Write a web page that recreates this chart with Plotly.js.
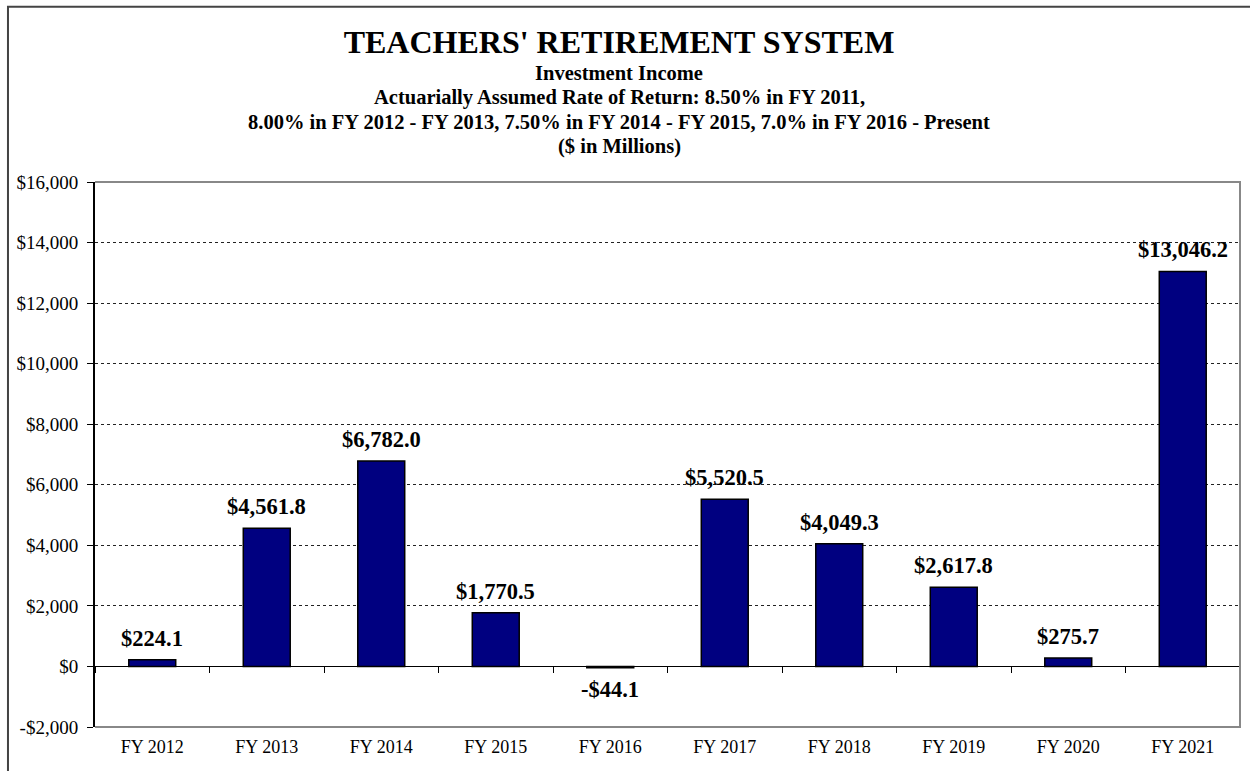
<!DOCTYPE html>
<html>
<head>
<meta charset="utf-8">
<script src="https://cdn.plot.ly/plotly-3.0.1.min.js"></script>
<style>
  html, body { margin: 0; padding: 0; background: #fff; }
  #chart { width: 1250px; height: 771px; }
</style>
</head>
<body>
<div id="chart"></div>
<script>
var years = ['FY 2012', 'FY 2013', 'FY 2014', 'FY 2015', 'FY 2016',
             'FY 2017', 'FY 2018', 'FY 2019', 'FY 2020', 'FY 2021'];
var income = [224.1, 4561.8, 6782.0, 1770.5, -44.1, 5520.5, 4049.3, 2617.8, 275.7, 13046.2];

var yTickVals = [-2000, 0, 2000, 4000, 6000, 8000, 10000, 12000, 14000, 16000];
var yTickText = ['-$2,000', '$0', '$2,000', '$4,000', '$6,000', '$8,000',
                 '$10,000', '$12,000', '$14,000', '$16,000'];

var titleText = "TEACHERS' RETIREMENT SYSTEM";
var subtitleLines = [
  'Investment Income',
  'Actuarially Assumed Rate of Return: 8.50% in FY 2011,',
  '8.00% in FY 2012 - FY 2013, 7.50% in FY 2014 - FY 2015, 7.0% in FY 2016 - Present',
  '($ in Millions)'
];

var serif = '"Liberation Serif", "Times New Roman", Times, serif';

function money(v) {
  var s = Math.abs(v).toLocaleString('en-US', {minimumFractionDigits: 1, maximumFractionDigits: 1});
  return (v < 0 ? '-$' : '$') + s;
}

var traces = [
  { x: years,
    y: income,
    type: 'bar',
    width: 0.41,
    marker: {color: '#000080', line: {color: '#000', width: 1.5}},
    hoverinfo: 'x+y',
    showlegend: false
  },
  // invisible copy on x2 so the zero-line axis gets the categories
  { x: years,
    y: income,
    xaxis: 'x2',
    type: 'scatter',
    mode: 'none',
    hoverinfo: 'skip',
    showlegend: false
  }
];

var annotations = income.map(function(v, i) {
  return {
    x: years[i], y: v, xref: 'x', yref: 'y',
    text: '<b>' + money(v) + '</b>',
    showarrow: false,
    yanchor: v < 0 ? 'top' : 'bottom',
    yshift: v < 0 ? -7 : 7,
    font: {family: serif, size: 22.5, color: '#000'}
  };
});

// subtitle lines centred on the page, not the plot area
var subX = (619 - 95) / 1145;
var subY = [1.2000, 1.1550, 1.1101, 1.0651];
subtitleLines.forEach(function(t, i) {
  annotations.push({
    x: subX, y: subY[i], xref: 'paper', yref: 'paper',
    xanchor: 'center',
    text: '<b>' + t + '</b>',
    showarrow: false,
    yanchor: 'middle',
    font: {family: serif, size: 20.5, color: '#000'}
  });
});

var layout = {
  width: 1250,
  height: 771,
  margin: {l: 95, r: 10, t: 182, b: 44},
  paper_bgcolor: '#fff',
  plot_bgcolor: '#fff',
  font: {family: serif, color: '#000'},
  title: {
    text: '<b>' + titleText + '</b>',
    x: 619 / 1250, xanchor: 'center',
    y: 1 - 42 / 771, yanchor: 'middle',
    font: {family: serif, size: 32, color: '#000'}
  },
  xaxis: {
    type: 'category',
    range: [-0.5, 9.5],
    ticks: '',
    showgrid: false,
    showline: false,
    zeroline: false,
    tickfont: {family: serif, size: 18, color: '#000'},
    ticklabelstandoff: 7
  },
  xaxis2: {
    type: 'category',
    overlaying: 'x',
    anchor: 'free',
    position: 2 / 18,
    range: [-0.5, 9.5],
    tickson: 'boundaries',
    ticks: 'outside',
    ticklen: 6,
    tickwidth: 1,
    tickcolor: '#000',
    showticklabels: false,
    showgrid: false,
    showline: false,
    zeroline: false
  },
  yaxis: {
    range: [-2000, 16000],
    tickvals: yTickVals,
    ticktext: yTickText,
    ticks: 'outside',
    ticklen: 6,
    tickcolor: '#000',
    tickfont: {family: serif, size: 19, color: '#000'},
    ticklabelstandoff: 5,
    showline: true,
    linecolor: '#000',
    linewidth: 2,
    showgrid: true,
    gridcolor: '#222',
    griddash: 'dot',
    gridwidth: 1,
    zeroline: true,
    zerolinecolor: '#000',
    zerolinewidth: 1.5
  },
  shapes: [
    { type: 'path', xref: 'paper', yref: 'paper',
      path: 'M0,1 L1,1 L1,0 L0,0',
      line: {color: '#888', width: 2} },
    { type: 'rect', xref: 'paper', yref: 'paper',
      x0: -0.076, x1: 1.02, y0: -0.12, y1: 1.3215,
      line: {color: '#444', width: 2} }
  ],
  annotations: annotations,
  bargap: 0.59
};

Plotly.newPlot('chart', traces, layout, {displayModeBar: false, staticPlot: true});
</script>
</body>
</html>
